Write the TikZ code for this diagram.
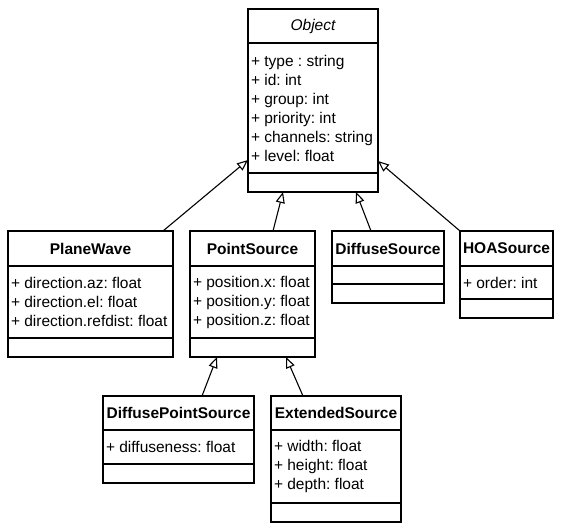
\documentclass[tikz,border=0pt]{standalone}
\usepackage{fontspec}
\setmainfont{Liberation Sans}
\frenchspacing
\usetikzlibrary{positioning, arrows.meta}

\begin{document}
\begin{tikzpicture}[x=1pt,y=-1pt]
  \tikzset{box/.style={draw,line width=1.1pt,outer sep=0,inner sep=0,
      font=\fontsize{15.5}{19}\selectfont},
    classname/.style={box,anchor=north west,minimum height=35pt,font=\fontsize{15.5}{19}\selectfont\bfseries},
    attrs/.style={box,align=flush left,inner xsep=3pt},
    ops/.style={box,minimum height=19pt},
    inherit/.style={line width=1.1pt,-{Triangle[open,length=11pt,width=9pt]}}}
  \useasboundingbox (0,0) rectangle (566,530);
  % superclass
  \node[classname,minimum width=130pt,minimum height=34pt,font=\fontsize{15.5}{19}\selectfont\itshape] (obj) at (248,9) {Object};
  \node[attrs,below=0pt of obj,minimum height=130pt,text width=124pt] (objattr) {+ type : string\\+ id: int\\+ group: int\\+ priority: int\\+ channels: string\\+ level: float};
  \node[ops,below=0pt of objattr,minimum width=130pt] (objops) {};
  % second row
  \node[classname,minimum width=165pt] (pw) at (8,231) {PlaneWave};
  \node[attrs,below=0pt of pw,minimum height=72pt,text width=159pt] (pwattr) {+ direction.az: float\\+ direction.el: float\\+ direction.refdist: float};
  \node[ops,below=0pt of pwattr,minimum width=165pt] (pwops) {};
  \node[classname,minimum width=125pt] (ps) at (190,231) {PointSource};
  \node[attrs,below=0pt of ps,minimum height=72pt,text width=119pt] (psattr) {+ position.x: float\\+ position.y: float\\+ position.z: float};
  \node[ops,below=0pt of psattr,minimum width=125pt] (psops) {};
  \node[classname,minimum width=112pt] (ds) at (332,231) {DiffuseSource};
  \node[ops,below=0pt of ds,minimum width=112pt,minimum height=18pt] (dsattr) {};
  \node[ops,below=0pt of dsattr,minimum width=112pt] (dsops) {};
  \node[classname,minimum width=93pt] (hoa) at (460,231) {HOASource};
  \node[attrs,below=0pt of hoa,minimum height=33pt,text width=87pt] (hoaattr) {+ order: int};
  \node[ops,below=0pt of hoaattr,minimum width=93pt] (hoaops) {};
  % third row
  \node[classname,minimum width=151pt,minimum height=34pt] (dps) at (103,396) {DiffusePointSource};
  \node[attrs,below=0pt of dps,minimum height=34pt,text width=145pt] (dpsattr) {+ diffuseness: float};
  \node[ops,below=0pt of dpsattr,minimum width=151pt] (dpsops) {};
  \node[classname,minimum width=130pt,minimum height=34pt] (es) at (271,396) {ExtendedSource};
  \node[attrs,below=0pt of es,minimum height=73pt,text width=124pt] (esattr) {+ width: float\\+ height: float\\+ depth: float};
  \node[ops,below=0pt of esattr,minimum width=130pt] (esops) {};
  % generalisations
  \draw[inherit] ([xshift=-10pt]pw.north east) -- ([yshift=13pt]objops.north west);
  \draw[inherit] ([xshift=83pt]ps.north west) -- ([xshift=35pt]objops.south west);
  \draw[inherit] ([xshift=39pt]ds.north west) -- ([xshift=108pt]objops.south west);
  \draw[inherit] (hoa.north west) -- ([yshift=12pt]objops.north east);
  \draw[inherit] ([xshift=99pt]dps.north west) -- ([xshift=27pt]psops.south west);
  \draw[inherit] ([xshift=32pt]es.north west) -- ([xshift=96pt]psops.south west);
\end{tikzpicture}
\end{document}
